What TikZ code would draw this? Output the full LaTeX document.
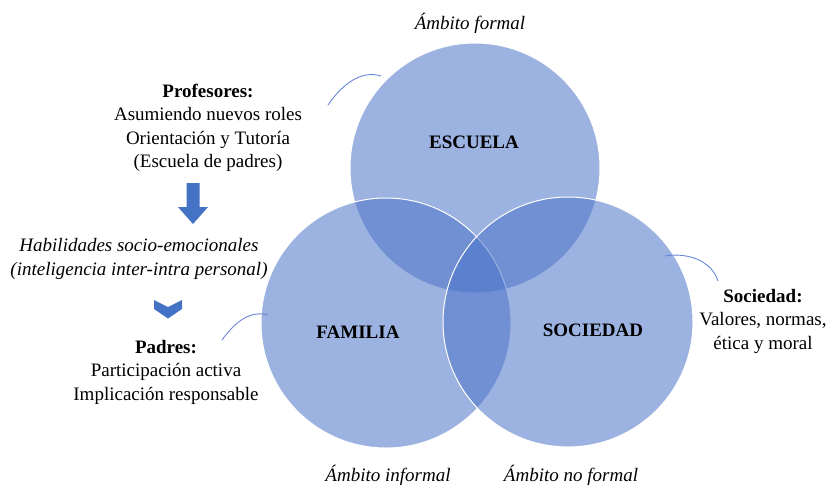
\documentclass[tikz,border=0pt]{standalone}
\usepackage{fontspec}
\setmainfont{Liberation Serif}
\definecolor{vennblue}{RGB}{75,115,200}
\definecolor{arrowblue}{RGB}{68,114,196}
\definecolor{calloutblue}{RGB}{105,135,215}
\begin{document}
\begin{tikzpicture}[x=1pt,y=-1pt,
  venn/.style={circle, minimum size=250pt, inner sep=0pt, fill=vennblue, fill opacity=0.55, draw=white, line width=1pt},
  txt/.style={font=\fontsize{19}{23.5}\selectfont, align=center, anchor=base, inner sep=0pt},
  itxt/.style={txt, font=\fontsize{19}{24}\selectfont\itshape},
  ctitle/.style={txt, font=\fontsize{19}{23.5}\selectfont\bfseries},
  callout/.style={draw=calloutblue, line width=0.9pt},
  blockarrow/.style={fill=arrowblue}
]
\useasboundingbox (0,0) rectangle (832,488);

% circles
\node[venn] (escuela) at (475,168) {};
\node[venn] (familia) at (386,323) {};
\node[venn] (sociedad) at (568,322) {};

% circle labels
\node[ctitle] (lesc) at (474,148) {ESCUELA};
\node[ctitle] (lfam) at (358,338) {FAMILIA};
\node[ctitle] (lsoc) at (593,336) {SOCIEDAD};

% ambit labels
\node[itxt] (aformal) at (470,29) {Ámbito formal};
\node[itxt] (ainformal) at (388,481) {Ámbito informal};
\node[itxt] (anoformal) at (571,481) {Ámbito no formal};

% left texts (base anchor = last line's baseline)
\node[txt] (prof) at (208,167.5) {\textbf{Profesores:}\\Asumiendo nuevos roles\\Orientación y Tutoría\\(Escuela de padres)};
\node[itxt] (habil) at (139,275) {Habilidades socio-emocionales\\(inteligencia inter-intra personal)};
\node[txt] (padres) at (166,400) {\textbf{Padres:}\\Participación activa\\Implicación responsable};

% right text
\node[txt] (soc) at (763,349) {\textbf{Sociedad:}\\Valores, normas,\\ética y moral};

% arrows
\fill[blockarrow] (186.5,183) -- (199.5,183) -- (199.5,207) -- (208,207) -- (193,224) -- (178,207) -- (186.5,207) -- cycle;
\fill[blockarrow] (154,300) -- (168,307) -- (182,300) -- (182,309) -- (168,318.5) -- (154,309) -- cycle;

% callout curves
\coordinate (c1a) at (328,105);
\coordinate (c1b) at (381,76);
\draw[callout] (c1a) .. controls (343,83) and (362,70) .. (c1b);
\coordinate (c2a) at (222,340);
\coordinate (c2b) at (268,315);
\draw[callout] (c2a) .. controls (235,322) and (250,310) .. (c2b);
\coordinate (c3a) at (665,256);
\coordinate (c3b) at (718,281);
\draw[callout] (c3a) .. controls (690,252) and (712,262) .. (c3b);
\end{tikzpicture}
\end{document}
